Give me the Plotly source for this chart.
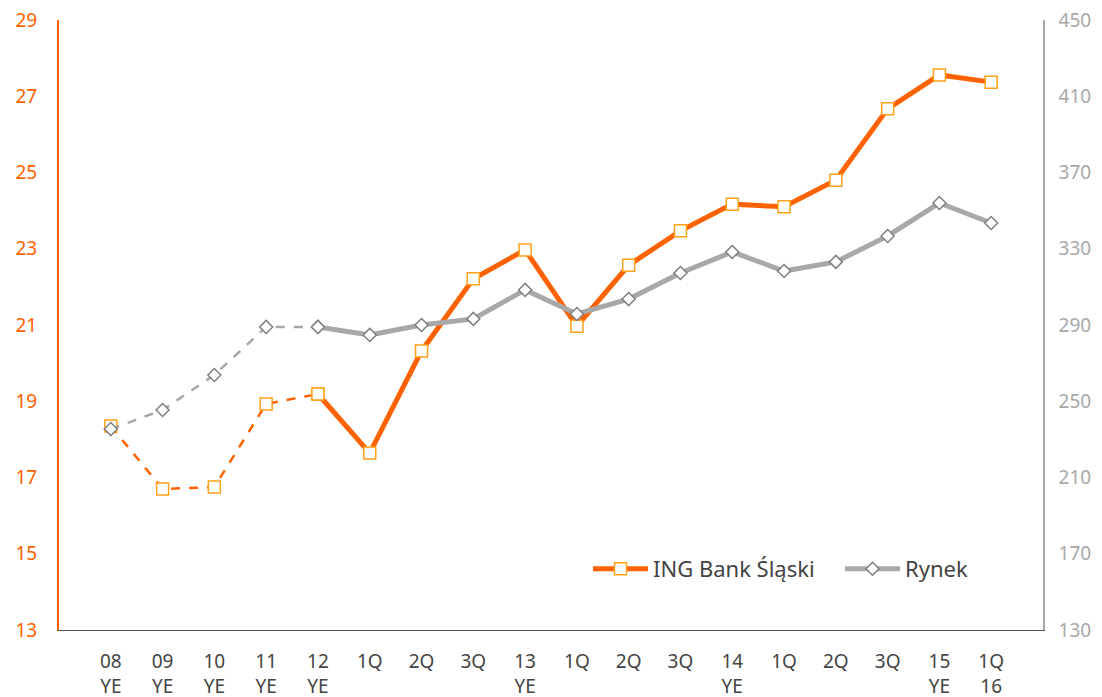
import plotly.graph_objects as go

tick_labels = ["08<br>YE", "09<br>YE", "10<br>YE", "11<br>YE", "12<br>YE", "1Q", "2Q", "3Q",
               "13<br>YE", "1Q", "2Q", "3Q", "14<br>YE", "1Q", "2Q", "3Q", "15<br>YE", "1Q<br>16"]
ing = [18.35, 16.70, 16.75, 18.93, 19.19, 17.64, 20.32, 22.21, 22.97, 20.97,
       22.57, 23.47, 24.17, 24.10, 24.80, 26.67, 27.56, 27.37]
rynek = [235.4, 245.4, 263.8, 289.0, 289.0, 284.8, 290.0, 293.2, 308.4, 295.8,
         303.6, 317.3, 328.3, 318.3, 323.1, 336.7, 354.0, 343.5]
split = 4  # last annual point drawn dashed (12 YE)

x = list(range(len(tick_labels)))
ORANGE = "#FF6200"
ORANGE_MK = "#FFA21A"
GRAY = "#A8A8A8"
GRAY_MK = "#7F7F7F"
FONT = "Noto Sans"

fig = go.Figure()
fig.add_trace(go.Scatter(x=x[:split + 1], y=rynek[:split + 1], yaxis="y2", mode="lines+markers",
                         line=dict(color=GRAY, width=2.5, dash="dash"),
                         marker=dict(symbol="diamond", size=10, color="white",
                                     line=dict(color=GRAY_MK, width=1.5)),
                         showlegend=False, hoverinfo="skip"))
fig.add_trace(go.Scatter(x=x[split:], y=rynek[split:], yaxis="y2", mode="lines+markers",
                         name="Rynek",
                         line=dict(color=GRAY, width=5),
                         marker=dict(symbol="diamond", size=10, color="white",
                                     line=dict(color=GRAY_MK, width=1.5)),
                         legendrank=2))
fig.add_trace(go.Scatter(x=x[:split + 1], y=ing[:split + 1], mode="lines+markers",
                         line=dict(color=ORANGE, width=2.5, dash="dash"),
                         marker=dict(symbol="square", size=12, color="white",
                                     line=dict(color=ORANGE_MK, width=1.5)),
                         showlegend=False, hoverinfo="skip"))
fig.add_trace(go.Scatter(x=x[split:], y=ing[split:], mode="lines+markers",
                         name="ING Bank Śląski",
                         line=dict(color=ORANGE, width=5),
                         marker=dict(symbol="square", size=12, color="white",
                                     line=dict(color=ORANGE_MK, width=1.5)),
                         legendrank=1))

fig.update_layout(
    width=1094, height=689,
    margin=dict(l=51, r=59, t=12, b=67, autoexpand=False),
    paper_bgcolor="white", plot_bgcolor="white",
    font=dict(family=FONT, size=19, color="#444444"),
    xaxis=dict(range=[-1, 18], tickmode="array", tickvals=x, ticktext=tick_labels,
               showgrid=False, zeroline=False, showline=True, linecolor="#555555",
               linewidth=1, ticks="outside", ticklen=14, tickcolor="rgba(0,0,0,0)",
               automargin=False, ticklabeloverflow="allow",
               tickfont=dict(size=19, color="#444444")),
    yaxis=dict(range=[13, 29], dtick=2, tick0=13, showgrid=False, zeroline=False,
               showline=True, linecolor=ORANGE, linewidth=2, ticks="outside", ticklen=16,
               tickcolor="rgba(0,0,0,0)", automargin=False, ticklabeloverflow="allow",
               tickfont=dict(size=19, color=ORANGE)),
    yaxis2=dict(range=[130, 450], dtick=40, tick0=130, overlaying="y", side="right",
                showgrid=False, zeroline=False, showline=True, linecolor=GRAY,
                linewidth=1.5, ticks="outside", ticklen=10, tickcolor="rgba(0,0,0,0)",
                automargin=False, ticklabeloverflow="allow",
                tickfont=dict(size=19, color=GRAY)),
    legend=dict(orientation="h", x=0.5376, xanchor="left", y=0.1, yanchor="middle",
                bgcolor="rgba(0,0,0,0)", itemwidth=55, entrywidth=182,
                entrywidthmode="pixels", font=dict(size=22, color="#444444"),
                traceorder="normal"),
    showlegend=True,
)

fig.write_html("out.html")
